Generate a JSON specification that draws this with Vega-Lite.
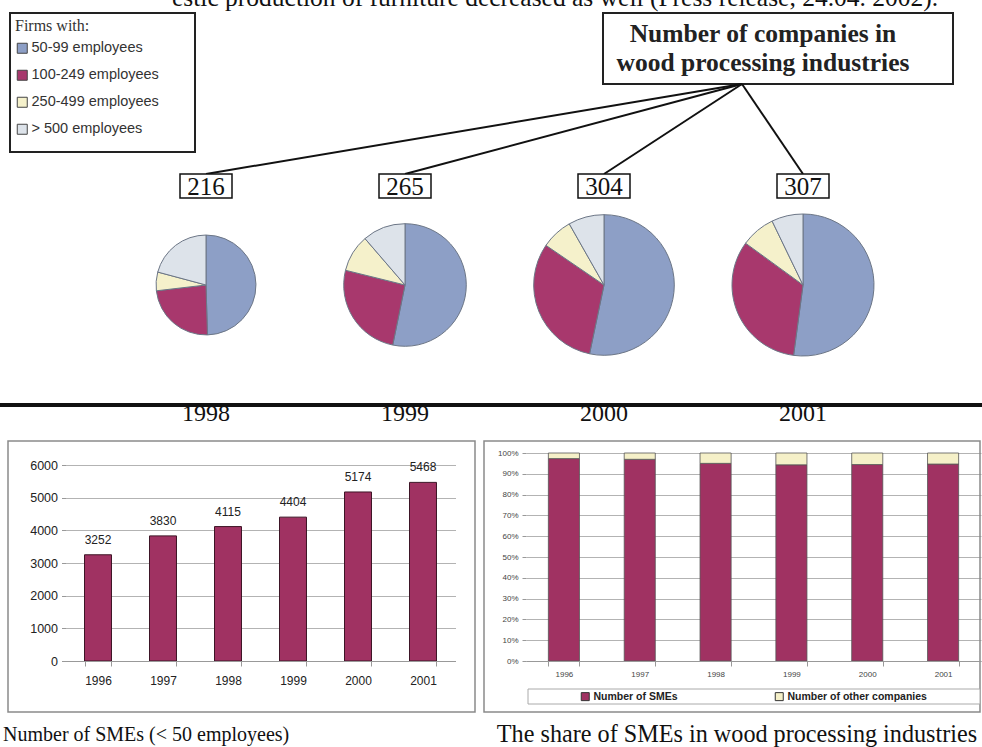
{
  "$schema": "https://vega.github.io/schema/vega-lite/v6.json",
  "width": 982,
  "height": 747,
  "autosize": {"type": "none"},
  "padding": 0,
  "background": "white",
  "config": {"view": {"stroke": null}, "font": "Liberation Sans"},
  "datasets": {
    "firms": [
      {"year": 1998, "size": "50-99 employees", "n": 107},
      {"year": 1998, "size": "100-249 employees", "n": 51},
      {"year": 1998, "size": "250-499 employees", "n": 13},
      {"year": 1998, "size": "> 500 employees", "n": 45},
      {"year": 1999, "size": "50-99 employees", "n": 141},
      {"year": 1999, "size": "100-249 employees", "n": 68},
      {"year": 1999, "size": "250-499 employees", "n": 26},
      {"year": 1999, "size": "> 500 employees", "n": 30},
      {"year": 2000, "size": "50-99 employees", "n": 162},
      {"year": 2000, "size": "100-249 employees", "n": 95},
      {"year": 2000, "size": "250-499 employees", "n": 22},
      {"year": 2000, "size": "> 500 employees", "n": 25},
      {"year": 2001, "size": "50-99 employees", "n": 160},
      {"year": 2001, "size": "100-249 employees", "n": 101},
      {"year": 2001, "size": "250-499 employees", "n": 24},
      {"year": 2001, "size": "> 500 employees", "n": 22}
    ],
    "smes": [
      {"year": 1996, "n": 3252},
      {"year": 1997, "n": 3830},
      {"year": 1998, "n": 4115},
      {"year": 1999, "n": 4404},
      {"year": 2000, "n": 5174},
      {"year": 2001, "n": 5468}
    ],
    "share": [
      {"year": 1996, "group": "Number of SMEs", "n": 3252},
      {"year": 1996, "group": "Number of other companies", "n": 90},
      {"year": 1997, "group": "Number of SMEs", "n": 3830},
      {"year": 1997, "group": "Number of other companies", "n": 120},
      {"year": 1998, "group": "Number of SMEs", "n": 4115},
      {"year": 1998, "group": "Number of other companies", "n": 216},
      {"year": 1999, "group": "Number of SMEs", "n": 4404},
      {"year": 1999, "group": "Number of other companies", "n": 265},
      {"year": 2000, "group": "Number of SMEs", "n": 5174},
      {"year": 2000, "group": "Number of other companies", "n": 304},
      {"year": 2001, "group": "Number of SMEs", "n": 5468},
      {"year": 2001, "group": "Number of other companies", "n": 307}
    ]
  },
  "layer": [
    {
      "data": {"values": [{}]},
      "mark": {"type": "text", "align": "left", "baseline": "alphabetic", "font": "Liberation Serif", "fontSize": 25.5, "color": "#111"},
      "encoding": {"x": {"value": 172}, "y": {"value": 6}, "text": {"value": "estic production of furniture decreased as well (Press release, 24.04. 2002)."}}
    },
    {
      "data": {"values": [{}]},
      "mark": {"type": "rect", "fill": "white", "stroke": "#222", "strokeWidth": 2},
      "encoding": {"x": {"value": 10}, "x2": {"value": 195}, "y": {"value": 13}, "y2": {"value": 152}}
    },
    {
      "data": {"values": [{}]},
      "mark": {"type": "rect", "fill": "white", "stroke": "#222", "strokeWidth": 2},
      "encoding": {"x": {"value": 603}, "x2": {"value": 953}, "y": {"value": 13}, "y2": {"value": 84}}
    },
    {
      "data": {"values": [{}]},
      "mark": {"type": "text", "align": "center", "baseline": "middle", "font": "Liberation Serif", "fontSize": 25.5, "fontWeight": "bold", "color": "#222", "lineHeight": 29},
      "encoding": {"x": {"value": 763}, "y": {"value": 34}, "text": {"value": ["Number of companies in", "wood processing industries"]}}
    },
    {
      "data": {"values": [{}]},
      "mark": {"type": "rule", "color": "#111", "strokeWidth": 4},
      "encoding": {"x": {"value": 0}, "x2": {"value": 982}, "y": {"value": 405}}
    },
    {
      "data": {"values": [{}]},
      "mark": {"type": "rect", "fillOpacity": 0, "stroke": "#8a8a8a", "strokeWidth": 1.5},
      "encoding": {"x": {"value": 8}, "x2": {"value": 475}, "y": {"value": 441}, "y2": {"value": 712}}
    },
    {
      "data": {"values": [{}]},
      "mark": {"type": "rect", "fillOpacity": 0, "stroke": "#8a8a8a", "strokeWidth": 1.5},
      "encoding": {"x": {"value": 484}, "x2": {"value": 980}, "y": {"value": 441}, "y2": {"value": 712}}
    },
    {
      "data": {"values": [{}]},
      "mark": {"type": "rect", "fill": "white", "stroke": "#aaaaaa", "strokeWidth": 1},
      "encoding": {"x": {"value": 528}, "x2": {"value": 980}, "y": {"value": 689}, "y2": {"value": 704}}
    },
    {
      "data": {"values": [{}]},
      "mark": {"type": "text", "align": "left", "baseline": "middle", "font": "Liberation Serif", "fontSize": 20, "color": "#111"},
      "encoding": {"x": {"value": 3}, "y": {"value": 735}, "text": {"value": "Number of SMEs (< 50 employees)"}}
    },
    {
      "data": {"values": [{}]},
      "mark": {"type": "text", "align": "center", "baseline": "middle", "font": "Liberation Serif", "fontSize": 24.2, "color": "#111"},
      "encoding": {"x": {"value": 737}, "y": {"value": 735}, "text": {"value": "The share of SMEs  in wood processing industries"}}
    },
    {
      "data": {"name": "firms"},
      "layer": [
        {
          "transform": [{"aggregate": [{"op": "sum", "field": "n", "as": "total"}], "groupby": ["year"]}],
          "mark": {"type": "rule", "color": "#111", "strokeWidth": 2},
          "encoding": {
            "x": {"field": "year", "type": "ordinal", "scale": {"type": "point", "range": [206, 803], "padding": 0}, "axis": null},
            "y": {"value": 174},
            "x2": {"value": 742},
            "y2": {"value": 84}
          }
        },
        {
          "transform": [{"aggregate": [{"op": "sum", "field": "n", "as": "total"}], "groupby": ["year"]}],
          "mark": {"type": "point", "shape": "M-1,-0.46L1,-0.46L1,0.46L-1,0.46Z", "size": 2704, "filled": true, "fill": "white", "stroke": "#111", "strokeWidth": 1.5, "opacity": 1},
          "encoding": {
            "x": {"field": "year", "type": "ordinal"},
            "y": {"value": 186}
          }
        },
        {
          "transform": [{"aggregate": [{"op": "sum", "field": "n", "as": "total"}], "groupby": ["year"]}],
          "mark": {"type": "text", "font": "Liberation Serif", "fontSize": 25, "baseline": "middle", "align": "center", "color": "#111"},
          "encoding": {
            "x": {"field": "year", "type": "ordinal"},
            "y": {"value": 187},
            "text": {"field": "total", "type": "quantitative", "format": "d"}
          }
        },
        {
          "transform": [{"aggregate": [{"op": "sum", "field": "n", "as": "total"}], "groupby": ["year"]}],
          "mark": {"type": "text", "font": "Liberation Serif", "fontSize": 24, "baseline": "middle", "align": "center", "color": "#111"},
          "encoding": {
            "x": {"field": "year", "type": "ordinal"},
            "y": {"value": 414},
            "text": {"field": "year", "type": "ordinal"}
          }
        },
        {
          "transform": [
            {"joinaggregate": [{"op": "sum", "field": "n", "as": "total"}], "groupby": ["year"]},
            {"stack": "n", "groupby": ["year"], "offset": "normalize", "as": ["start", "end"]}
          ],
          "mark": {"type": "arc", "stroke": "#6c7686", "strokeWidth": 1},
          "encoding": {
            "x": {"field": "year", "type": "ordinal"},
            "y": {"value": 285},
            "theta": {"field": "start", "type": "quantitative", "scale": {"domain": [0, 1]}, "stack": null},
            "theta2": {"field": "end"},
            "radius": {"field": "total", "type": "quantitative", "stack": null, "scale": {"type": "linear", "domain": [0, 307], "range": [0, 71], "zero": true}},
            "color": {
              "field": "size",
              "type": "nominal",
              "scale": {
                "domain": ["50-99 employees", "100-249 employees", "250-499 employees", "> 500 employees"],
                "range": ["#8d9fc6", "#a8386d", "#f5f1cb", "#dde3ea"]
              },
              "legend": {
                "orient": "none",
                "legendX": 15,
                "legendY": 18,
                "title": "Firms with:",
                "titleFont": "Liberation Serif",
                "titleFontSize": 16,
                "titleFontWeight": "normal",
                "titleColor": "#333",
                "titlePadding": 7,
                "symbolType": "square",
                "symbolSize": 100,
                "symbolStrokeColor": "#444",
                "symbolStrokeWidth": 1,
                "symbolOpacity": 1,
                "labelFont": "Liberation Sans",
                "labelFontSize": 14.5,
                "labelColor": "#333",
                "labelOffset": 2,
                "rowPadding": 11,
                "padding": 0
              }
            }
          }
        }
      ]
    },
    {
      "data": {"name": "smes"},
      "encoding": {
        "x": {
          "field": "year",
          "type": "ordinal",
          "scale": {"type": "band", "range": [65.5, 455.5], "paddingInner": 0.585, "paddingOuter": 0.2925},
          "axis": {"orient": "bottom", "offset": -86, "zindex": 1, "title": null, "labelAngle": 0, "labelFontSize": 12, "labelColor": "#222", "labelPadding": 9, "domainColor": "#999", "tickColor": "#999", "tickSize": 5, "tickBand": "extent", "grid": false}
        },
        "y": {
          "field": "n",
          "type": "quantitative",
          "scale": {"domain": [0, 6000], "range": [661, 465], "nice": false, "zero": true},
          "axis": {"orient": "left", "offset": -65.5, "title": null, "values": [0, 1000, 2000, 3000, 4000, 5000, 6000], "format": "d", "labelFontSize": 12.5, "labelColor": "#222", "labelPadding": 4, "tickSize": 4, "tickColor": "#999", "domain": false, "grid": true, "gridColor": "#b3b3b3"}
        }
      },
      "layer": [
        {"mark": {"type": "bar", "color": "#a03262", "stroke": "#3d1526", "strokeWidth": 1}},
        {
          "mark": {"type": "text", "dy": -15, "fontSize": 12, "color": "#222", "baseline": "middle"},
          "encoding": {"text": {"field": "n", "type": "quantitative", "format": "d"}}
        }
      ]
    },
    {
      "data": {"name": "share"},
      "mark": {"type": "bar", "stroke": "#555", "strokeWidth": 0.8},
      "encoding": {
        "x": {
          "field": "year",
          "type": "ordinal",
          "scale": {"type": "band", "range": [526, 981], "paddingInner": 0.59, "paddingOuter": 0.295},
          "axis": {"orient": "bottom", "offset": -86, "zindex": 1, "title": null, "labelAngle": 0, "labelFontSize": 8, "labelColor": "#444", "labelPadding": 4, "domainColor": "#999", "tickColor": "#999", "tickSize": 5, "tickBand": "extent", "grid": false}
        },
        "y": {
          "field": "n",
          "type": "quantitative",
          "stack": "normalize",
          "scale": {"domain": [0, 1], "range": [661, 453], "nice": false},
          "axis": {"orient": "left", "offset": -526, "title": null, "values": [0, 0.1, 0.2, 0.3, 0.4, 0.5, 0.6, 0.7, 0.8, 0.9, 1], "format": ".0%", "labelFontSize": 8, "labelColor": "#444", "labelPadding": 4, "tickSize": 4, "tickColor": "#999", "domain": false, "grid": true, "gridColor": "#b3b3b3"}
        },
        "order": {"field": "group", "type": "ordinal", "sort": "ascending"},
        "color": {
          "field": "group",
          "type": "nominal",
          "scale": {"domain": ["Number of SMEs", "Number of other companies"], "range": ["#a03262", "#f5f0c8"]},
          "legend": {
            "orient": "none",
            "legendX": 580,
            "legendY": 691,
            "direction": "horizontal",
            "title": null,
            "symbolType": "square",
            "symbolSize": 64,
            "symbolStrokeColor": "#333",
            "symbolStrokeWidth": 1,
            "labelFontSize": 10.5,
            "labelFontWeight": "bold",
            "labelColor": "#222",
            "labelOffset": 3,
            "columnPadding": 95,
            "padding": 0
          }
        }
      }
    }
  ],
  "resolve": {
    "scale": {"x": "independent", "y": "independent", "color": "independent", "theta": "independent", "radius": "independent"},
    "axis": {"x": "independent", "y": "independent"},
    "legend": {"color": "independent"}
  }
}
